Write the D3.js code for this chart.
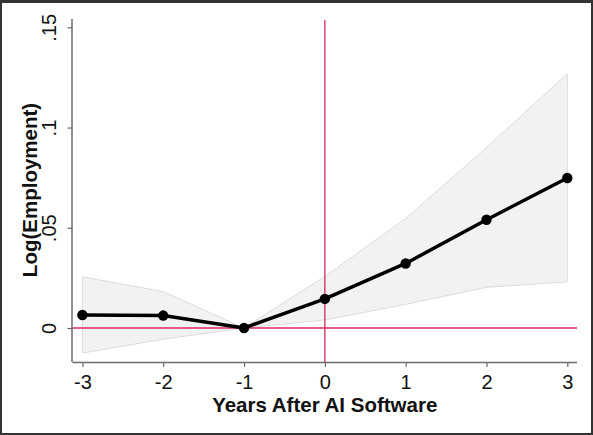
<!DOCTYPE html>
<html>
<head>
<meta charset="utf-8">
<script src="https://cdn.jsdelivr.net/npm/d3@7"></script>
<style>
html,body{margin:0;padding:0;background:#333;}
svg{display:block;}
</style>
</head>
<body>
<svg id="chart" width="593" height="435"></svg>
<script>
const years = [-3, -2, -1, 0, 1, 2, 3];
const estimate = [0.0065, 0.0062, 0, 0.0145, 0.0322, 0.0540, 0.0748];
const ciLower = [-0.0125, -0.0056, 0, 0.0040, 0.0118, 0.0203, 0.0230];
const ciUpper = [0.0255, 0.0182, 0, 0.0257, 0.0546, 0.0900, 0.1268];
const yTicks = [0, 0.05, 0.1, 0.15];
const yTickLabels = ["0", ".05", ".1", ".15"];
const xTickLabels = ["-3", "-2", "-1", "0", "1", "2", "3"];
const xTitle = "Years After AI Software";
const yTitle = "Log(Employment)";

const svg = d3.select("#chart");
// frame
svg.append("rect").attr("x", 2).attr("y", 3).attr("width", 589).attr("height", 430).attr("fill", "#fff");

const x = d3.scaleLinear().domain([-3, 3]).range([82.4, 567.3]);
const y0 = d3.scaleLinear().domain([0, 0.15]).range([328, 27.3]);
const y = y0.copy().domain([y0.invert(362), y0.invert(19)]).range([362, 19]);

const axisLeftX = 72.5, axisBottomY = 362, rightX = 577;
const font = "'Liberation Sans', Arial, Helvetica, sans-serif";

// CI band
const data = years.map((t, i) => ({t, e: estimate[i], lo: ciLower[i], hi: ciUpper[i]}));
svg.append("path").datum(data)
  .attr("d", d3.area().x(d => x(d.t)).y0(d => y(d.lo)).y1(d => y(d.hi)))
  .attr("fill", "#f2f2f2").attr("stroke", "#dcdcdc").attr("stroke-width", 1);

// reference lines
svg.append("line").attr("x1", axisLeftX).attr("x2", rightX)
  .attr("y1", y(0)).attr("y2", y(0)).attr("stroke", "#d8285a").attr("stroke-width", 1.3);
svg.append("line").attr("x1", x(0)).attr("x2", x(0))
  .attr("y1", 20).attr("y2", axisBottomY).attr("stroke", "#d8285a").attr("stroke-width", 1.3);

// axes
const gx = svg.append("g").attr("transform", `translate(0,${axisBottomY})`)
  .call(d3.axisBottom(x).tickValues(years).tickFormat((d, i) => xTickLabels[i]).tickSize(5).tickSizeOuter(0).tickPadding(8));
gx.select(".domain").attr("d", `M${axisLeftX},0.5H${rightX}`);
const gy = svg.append("g").attr("transform", `translate(${axisLeftX},0)`)
  .call(d3.axisLeft(y).tickValues(yTicks).tickFormat((d, i) => yTickLabels[i]).tickSize(5).tickSizeOuter(0).tickPadding(7));
gy.select(".domain").attr("d", `M-0.5,19V${axisBottomY}`);

[gx, gy].forEach(g => {
  g.select(".domain").attr("stroke", "#6b6b6b").attr("stroke-width", 1.5);
  g.selectAll(".tick line").attr("stroke", "#6b6b6b").attr("stroke-width", 1.2);
  g.selectAll(".tick text").attr("font-family", font).attr("font-size", 20).attr("fill", "#111");
});
gx.selectAll(".tick text").attr("dy", "0.71em");
gy.selectAll(".tick text")
  .attr("text-anchor", "middle")
  .attr("transform", "translate(-17,0) rotate(-90)")
  .attr("x", 0).attr("y", 0).attr("dy", "0");

// line and points
svg.append("path").datum(data)
  .attr("d", d3.line().x(d => x(d.t)).y(d => y(d.e)))
  .attr("fill", "none").attr("stroke", "#000").attr("stroke-width", 3.5).attr("stroke-linejoin", "round");
svg.selectAll("circle.pt").data(data).join("circle").attr("class", "pt")
  .attr("cx", d => x(d.t)).attr("cy", d => y(d.e)).attr("r", 5.2).attr("fill", "#000");

// titles
svg.append("text").attr("x", (axisLeftX + rightX) / 2).attr("y", 412)
  .attr("text-anchor", "middle").attr("font-family", font).attr("font-weight", "bold")
  .attr("font-size", 20.5).attr("fill", "#111").text(xTitle);
svg.append("text").attr("transform", `translate(37,190) rotate(-90)`)
  .attr("text-anchor", "middle").attr("font-family", font).attr("font-weight", "bold")
  .attr("font-size", 20.5).attr("fill", "#111").text(yTitle);
</script>
</body>
</html>
